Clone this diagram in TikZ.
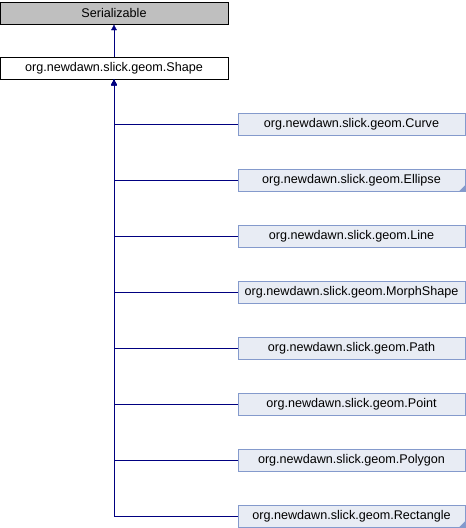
\documentclass[tikz,border=0pt]{standalone}
\usepackage{fontspec}
\setmainfont{Liberation Sans}
\usetikzlibrary{arrows.meta}

\definecolor{linkblue}{RGB}{0,0,128}
\definecolor{subfill}{RGB}{232,236,244}
\definecolor{subline}{RGB}{132,154,204}

\tikzset{
  classbox/.style={draw=black, minimum width=228pt, minimum height=22pt, inner sep=0pt,
    font=\fontsize{12.6}{14}\selectfont},
  subbox/.style={classbox, draw=subline, fill=subfill, minimum width=227pt},
  inherit/.style={draw=linkblue, {Latex[length=6pt,width=6pt]}-}
}

\begin{document}
\begin{tikzpicture}[x=1pt,y=-1pt]
    % Keep the page size of the reference
    \useasboundingbox (0,0) rectangle (466,528);

    % Base classes
    \node[classbox, fill=black!25] (serializable) at (114,13) {Serializable};
    \node[classbox, fill=white] (shape) at (114,68) {org.newdawn.slick.geom.Shape};
    \draw[inherit] (serializable.south) -- (shape.north);

    % Sub classes (one every 56 units)
    \foreach \y/\name/\cls in {124/curve/Curve, 180/ellipse/Ellipse, 236/line/Line,
        292/morphshape/MorphShape, 348/path/Path, 404/point/Point,
        460/polygon/Polygon, 516/rectangle/Rectangle} {
        \node[subbox] (\name) at (351.5,\y) {org.newdawn.slick.geom.\cls};
        \draw[inherit] (shape.south) |- (\name.west);
    }

    % Marker in the corner of the truncated boxes
    \foreach \name in {ellipse, rectangle} {
        \fill[subline] (\name.south east) -- ++(0,-6) -- ++(-6,6) -- cycle;
    }
\end{tikzpicture}
\end{document}
